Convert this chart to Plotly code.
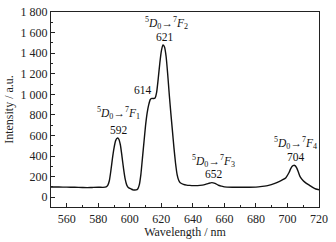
import plotly.graph_objects as go

wavelength = [550, 555, 560, 565, 570, 573, 576, 580, 583, 585, 586, 587, 588, 589, 590, 591, 592, 593, 594, 595,
              596, 597, 598, 599, 600, 601, 602, 603, 604, 605, 606, 607, 608, 609, 610, 611, 612, 613, 614, 615,
              616, 617, 618, 619, 620, 621, 622, 623, 624, 625, 626, 627, 628, 629, 630, 631, 632, 634, 636, 638,
              640, 643, 646, 648, 650, 652, 654, 656, 658, 660, 665, 670, 675, 680, 684, 688, 692, 695, 697, 699,
              701, 702, 703, 704, 705, 706, 707, 708, 710, 712, 714, 716, 718, 720]
intensity = [100, 99, 98, 97, 94, 93, 95, 97, 96, 100, 115, 160, 260, 380, 480, 550, 575, 565, 510, 400,
             280, 180, 120, 95, 85, 78, 72, 70, 71, 80, 120, 220, 380, 540, 700, 820, 900, 950, 960, 960,
             965, 1020, 1150, 1300, 1420, 1480, 1460, 1370, 1200, 1000, 820, 650, 480, 330, 220, 165, 140, 125, 118, 115,
             113, 113, 118, 125, 135, 142, 135, 118, 108, 100, 97, 97, 97, 98, 105, 115, 135, 155, 170, 190,
             240, 275, 300, 310, 305, 280, 240, 200, 160, 135, 115, 95, 80, 72]

ytick_vals = [0, 200, 400, 600, 800, 1000, 1200, 1400, 1600, 1800]
ytick_text = ["0", "200", "400", "600", "800", "1 000", "1 200", "1 400", "1 600", "1 800"]
xtick_vals = [560, 580, 600, 620, 640, 660, 680, 700, 720]

labels = [
    ("<sup>5</sup><i>D</i><sub>0</sub>→<sup>7</sup><i>F</i><sub>1</sub>", 592.5, 818),
    ("592", 593, 655),
    ("<sup>5</sup><i>D</i><sub>0</sub>→<sup>7</sup><i>F</i><sub>2</sub>", 623, 1698),
    ("621", 622, 1556),
    ("614", 608.4, 1042),
    ("<sup>5</sup><i>D</i><sub>0</sub>→<sup>7</sup><i>F</i><sub>3</sub>", 652.8, 352),
    ("652", 653.4, 228),
    ("<sup>5</sup><i>D</i><sub>0</sub>→<sup>7</sup><i>F</i><sub>4</sub>", 704.8, 530),
    ("704", 705.5, 391),
]

SERIF = "Liberation Serif"
INK = "#222222"

fig = go.Figure()
fig.add_trace(go.Scatter(x=wavelength, y=intensity, mode="lines",
                         line=dict(color="#111111", width=1.4, shape="spline", smoothing=0.6),
                         showlegend=False))

for text, x, y in labels:
    fig.add_annotation(x=x, y=y, text=text, showarrow=False,
                       font=dict(family=SERIF, size=11.5, color="#111111"))

axis_common = dict(showline=True, linecolor=INK, linewidth=1.2, mirror=True, automargin=False,
                   ticks="inside", ticklen=4, tickcolor=INK, showgrid=False, zeroline=False)

fig.update_xaxes(range=[550, 720], tickvals=xtick_vals,
                 tickfont=dict(family=SERIF, size=12, color=INK),
                 minor=dict(dtick=10, tick0=550, ticks="inside", ticklen=2, tickcolor=INK),
                 title=dict(text="Wavelength / nm", standoff=2,
                            font=dict(family=SERIF, size=12, color=INK)),
                 **axis_common)
fig.update_yaxes(range=[-95, 1800], tickvals=ytick_vals, ticktext=ytick_text,
                 tickfont=dict(family=SERIF, size=12, color=INK),
                 minor=dict(dtick=100, tick0=0, ticks="inside", ticklen=2, tickcolor=INK),
                 title=dict(text="Intensity / a.u.", standoff=4,
                            font=dict(family=SERIF, size=12, color=INK)),
                 **axis_common)

fig.update_layout(width=336, height=242, margin=dict(l=51, r=17, t=12, b=35),
                  plot_bgcolor="white", paper_bgcolor="white")

fig.write_html("out.html", config={"displayModeBar": False},
               post_script="document.body.style.margin='0';document.body.style.overflow='hidden';")
